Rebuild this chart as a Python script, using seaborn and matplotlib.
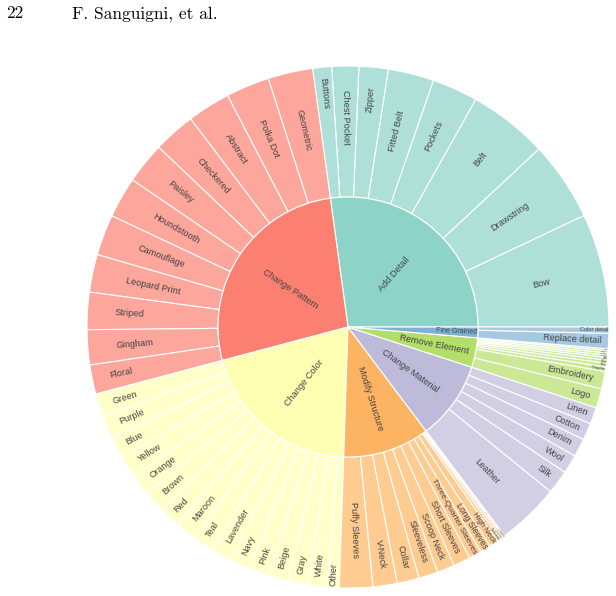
import numpy as np
import matplotlib
matplotlib.use("Agg")
import matplotlib.pyplot as plt
import seaborn as sns

# ── Data (sector sizes, in tenths of a degree) ──
parents = ["Add Detail", "Change Pattern", "Change Color", "Modify Structure",
           "Change Material", "Remove Element", "Fine Grained"]

add_detail_labels = ["Bow", "Drawstring", "Belt", "Pockets", "Fitted Belt",
                     "Zipper", "Chest Pocket", "Buttons"]
add_detail_vals = [253, 177, 177, 102, 102, 65, 60, 42]

pattern_labels = ["Geometric", "Polka Dot", "Abstract", "Checkered", "Paisley",
                  "Houndstooth", "Camouflage", "Leopard Print", "Striped",
                  "Gingham", "Floral"]
pattern_vals = [100, 97, 96, 94, 92, 91, 91, 84, 83, 78, 65]

color_labels = ["Green", "Purple", "Blue", "Yellow", "Orange", "Brown", "Red",
                "Maroon", "Teal", "Lavender", "Navy", "Pink", "Beige", "Gray",
                "White", "Other"]
color_vals = [52, 50, 49, 49, 48, 48, 47, 47, 47, 46, 46, 45, 45, 44, 43, 26]

structure_labels = ["Puffy Sleeves", "V-Neck", "Collar", "Sleeveless",
                    "Scoop Neck", "Short Sleeves", "Three-Quarter Sleeves",
                    "Long Sleeves", "High Neck", "Turtleneck", "Crew Neck",
                    "Off Shoulder", "Cap Sleeves"]
structure_vals = [74, 54, 49, 43, 39, 38, 28, 24, 20, 7, 5, 4, 3]

material_labels = ["Leather", "Silk", "Wool", "Denim", "Cotton", "Linen"]
material_vals = [140, 53, 42, 41, 38, 37]

remove_labels = ["Logo", "Embroidery", "Graphic", "Text", "Bow", "Belt",
                 "Pocket", "Button", "Zipper", "Other"]
remove_vals = [43, 39, 10, 8, 7, 6, 5, 5, 5, 4]

fine_labels = ["Replace detail", "Color detail"]
fine_vals = [34, 14]

children_labels = [add_detail_labels, pattern_labels, color_labels,
                   structure_labels, material_labels, remove_labels, fine_labels]
children_vals = [add_detail_vals, pattern_vals, color_vals, structure_vals,
                 material_vals, remove_vals, fine_vals]

# ── Style ──
sns.set_theme(style="white")
plt.rcParams['font.family'] = ['Liberation Sans', 'DejaVu Sans']

pal = sns.color_palette("Set3", 12)
alpha_order = sorted(parents)
parent_colors = [pal[alpha_order.index(p)] for p in parents]
# leaves drawn at 0.7 opacity over white
leaf_base = [tuple(0.7 * c + 0.3 for c in col) for col in parent_colors]

parent_vals = [sum(v) for v in children_vals]
flat_vals = [x for v in children_vals for x in v]
flat_labels = [x for v in children_labels for x in v]
flat_colors = [leaf_base[i] for i, v in enumerate(children_vals) for _ in v]

W, H = 616, 596
CX, CY = 348, H - 327
R_IN, R_OUT = 130, 261
TEXTPAD = 3
BASE_FS = 6.6
TXT_COLOR = "#444444"

fig = plt.figure(figsize=(W / 100, H / 100), dpi=100)
ax = fig.add_axes([0, 0, 1, 1])

outer, _ = ax.pie(flat_vals, radius=R_OUT, center=(CX, CY), startangle=0,
                  counterclock=True, colors=flat_colors,
                  wedgeprops=dict(width=R_OUT - R_IN, edgecolor='white',
                                  linewidth=0.8))
inner, _ = ax.pie(parent_vals, radius=R_IN, center=(CX, CY), startangle=0,
                  counterclock=True, colors=parent_colors,
                  wedgeprops=dict(edgecolor='white', linewidth=0.8))
ax.set_xlim(0, W)
ax.set_ylim(0, H)
ax.set_aspect('auto')
ax.axis('off')

renderer = fig.canvas.get_renderer()


def norm_rot(deg):
    return ((deg + 90) % 180) - 90


def max_half_size(a, half, r, ring):
    q = a + 1 / (2 * np.tan(half))
    return r * min(1 / (np.sqrt(q * q + 0.5) + q),
                   ring / (np.sqrt(a * a + ring / 2) + a))


def place_label(text, th1, th2, r0, r1):
    # radial text, sized and pushed outward so it fits inside its wedge
    half = np.deg2rad(th2 - th1) / 2
    if half <= 0:
        return
    mid = (th1 + th2) / 2
    ring = 1 - r0 / r1
    probe = ax.text(0, 0, text, fontsize=BASE_FS)
    bb = probe.get_window_extent(renderer)
    probe.remove()
    tw, th = bb.width, bb.height
    r = max(0, r1 - 2 * TEXTPAD)

    a = tw / th
    s = max_half_size(a, half, r, ring)
    scale = min(1.0, 2 * s / th)
    rc = np.cos(s / r) - a * s / r
    rr = rc * r1
    x = CX + rr * np.cos(np.deg2rad(mid))
    y = CY + rr * np.sin(np.deg2rad(mid))
    ax.text(x, y, text, fontsize=BASE_FS * scale, color=TXT_COLOR,
            rotation=norm_rot(mid), rotation_mode='anchor',
            ha='center', va='center')


for w, lab in zip(outer, flat_labels):
    place_label(lab, w.theta1, w.theta2, R_IN, R_OUT)
for w, lab in zip(inner, parents):
    place_label(lab, w.theta1, w.theta2, 0, R_IN)

# page header of the paper
ax.text(6, H - 18.5, "22", fontfamily='cmr10', fontsize=12.5,
        color='black', va='baseline', ha='left')
ax.text(72, H - 18.5, "F. Sanguigni, et al.", fontfamily='cmr10',
        fontsize=12.5, color='black', va='baseline', ha='left')

fig.savefig("out.png", dpi=100, facecolor='white')
